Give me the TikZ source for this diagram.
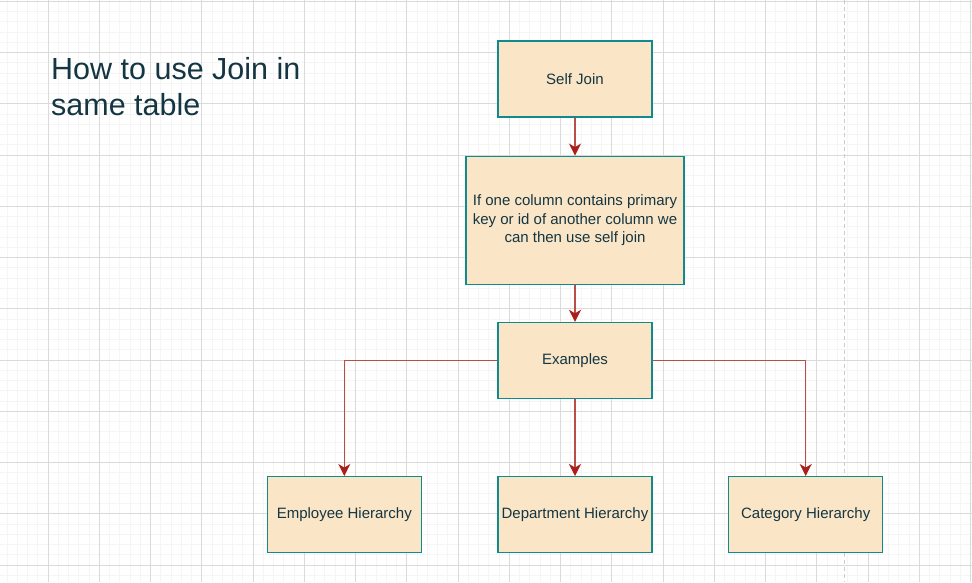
\documentclass[tikz,border=0pt]{standalone}
\usepackage{fontspec}
\setmainfont{Liberation Sans}
\usetikzlibrary{arrows.meta,positioning}

\definecolor{boxfill}{HTML}{FAE5C7}
\definecolor{boxline}{HTML}{0F8B8D}
\definecolor{boxtext}{HTML}{143642}
\definecolor{edgered}{HTML}{A8201A}
\definecolor{majorgrid}{HTML}{DADADA}
\definecolor{minorgrid}{HTML}{F5F5F5}

\begin{document}
\begin{tikzpicture}[x=1pt,y=-1pt,>={Stealth[length=12pt,width=12pt,inset=3.5pt,color=edgered]},
                    node distance=37pt,
                    main node/.style={rectangle,draw=boxline,fill=boxfill,line width=1.2pt,text=boxtext,
                                      font=\fontsize{15}{18.5}\selectfont,align=center,
                                      minimum width=154pt,minimum height=76pt},
                    title node/.style={text=boxtext,font=\fontsize{30.5}{36}\selectfont,align=left,inner sep=0pt},
                    elbow/.style={to path={-| (\tikztotarget)}}]

  % page and grid
  \fill[white] (0,0) rectangle (972,582);
  \useasboundingbox (0,0) rectangle (972,582);
  \foreach \i in {0,...,94}
    \draw[minorgrid,line width=1pt] ({7+\i*10.25},0) -- ({7+\i*10.25},582);
  \foreach \i in {0,...,56}
    \draw[minorgrid,line width=1pt] (0,{1.3+\i*10.25}) -- (972,{1.3+\i*10.25});
  \foreach \i in {0,...,18}
    \draw[majorgrid,line width=1pt] ({48+\i*51.25},0) -- ({48+\i*51.25},582);
  \foreach \i in {0,...,11}
    \draw[majorgrid,line width=1pt] (0,{1.3+\i*51.25}) -- (972,{1.3+\i*51.25});
  \draw[black!20,line width=1.5pt,dash pattern=on 4pt off 3pt] (844.7,0) -- (844.7,582);

  \node[title node,anchor=north west] (title) at (51,57) {How to use Join in\\same table};

  \node[main node] (1) at (575,79) {Self Join};
  \node[main node,minimum width=218pt,minimum height=128pt] (2) [below=38pt of 1]
    {If one column contains primary\\key or id of another column we\\can then use self join};
  \node[main node] (3) [below=of 2] {Examples};
  \node[main node] (5) [below=77pt of 3] {Department Hierarchy};
  \node[main node] (4) [left=75.5pt of 5] {Employee Hierarchy};
  \node[main node] (6) [right=75.5pt of 5] {Category Hierarchy};

  \path[->,draw=edgered!80!white,line width=1.5pt]
    (1) edge (2)
    (2) edge (3)
    (3) edge (5)
        edge[elbow] (4)
        edge[elbow] (6);
\end{tikzpicture}
\end{document}
